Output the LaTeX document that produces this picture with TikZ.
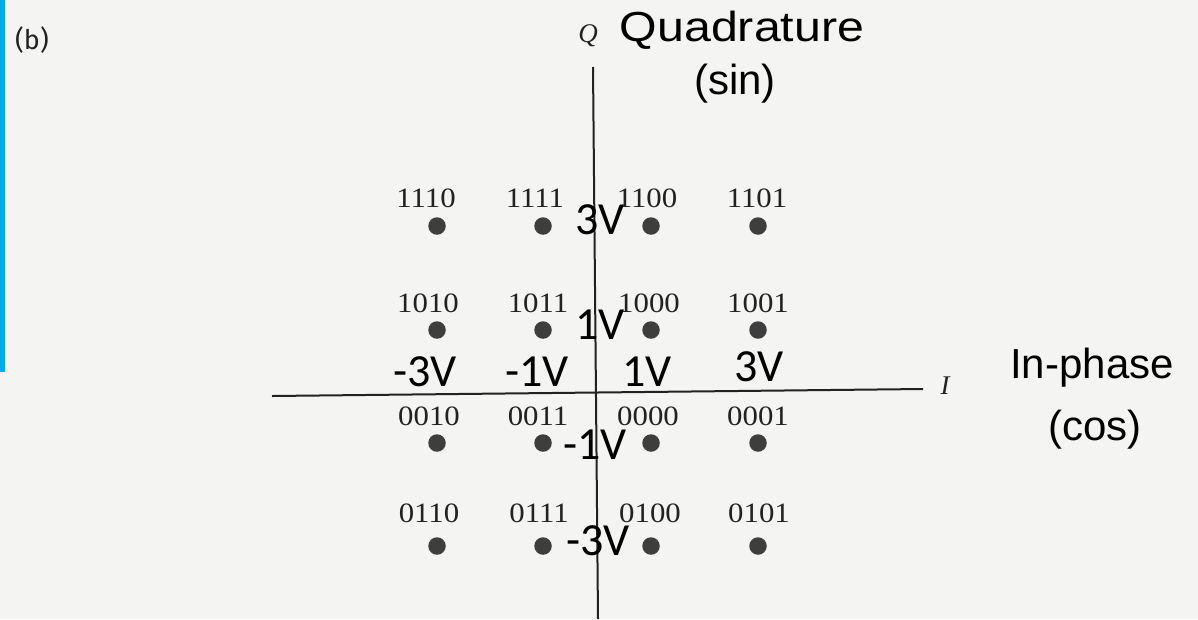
\documentclass[tikz,border=0pt]{standalone}
\usepackage{fontspec}
\setmainfont{Liberation Serif}
\newfontfamily\arialf{Liberation Sans}
\newfontfamily\calf{Carlito}
\newfontfamily\bfontf{Fira Sans}
\definecolor{paper}{RGB}{244,244,242}
\definecolor{barblue}{RGB}{0,172,238}
\definecolor{ink}{RGB}{34,34,34}
\definecolor{dotc}{RGB}{62,62,62}
\tikzset{
  axisline/.style={draw=ink, line width=2pt},
  sym/.style={circle, fill=dotc, inner sep=0pt, minimum size=17.5pt},
  bits/.style={inner sep=0pt, text=ink, font=\fontsize{28}{30}\selectfont, xscale=1.1, transform shape},
  volt/.style={inner sep=0pt, text=black, font=\calf\fontsize{46}{48}\selectfont},
  axname/.style={inner sep=0pt, text=black, font=\arialf\fontsize{42}{46}\selectfont, align=center},
  axlet/.style={inner sep=0pt, text=ink, font=\itshape\fontsize{27}{29}\selectfont}
}
\begin{document}
\begin{tikzpicture}[x=1pt, y=-1pt]
\useasboundingbox (0,0) rectangle (1198,619);
\fill[paper] (0,0) rectangle (1198,619);
\fill[barblue] (0,0) rectangle (5,372);
% axes
\coordinate (qtop) at (593,67);
\coordinate (qbot) at (598,619);
\coordinate (ileft) at (272,396);
\coordinate (iright) at (923,389);
\draw[axisline] (qtop) -- (qbot);
\draw[axisline] (ileft) -- (iright);
% labels
\node[inner sep=0pt, text=ink, font=\bfontf\fontsize{27}{29}\selectfont] (b) at (32,40) {(b)};
\node[axlet] (Q) at (588,36) {Q};
\node[axlet] (I) at (945,386) {I};
\node[axname, xscale=1.15, transform shape] (quad) at (742,30) {Quadrature};
\node[axname] (sin) at (735,84) {(sin)};
\node[axname] (inph) at (1092,368) {In-phase};
\node[axname] (cos) at (1095,430) {(cos)};
% symbols
\foreach \x/\c in {437/a,543/b,651/c,758/d}{
  \foreach \y/\r in {226/1,330/2,443/3,546/4}{
    \node[sym] (s\c\r) at (\x,\y) {};
  }
}
% bit labels
\foreach \t/\x/\y in {1110/426/198,1111/535/198,1100/647/198,1101/757/198,
                      1010/428/303,1011/538/303,1000/649/303,1001/758/303,
                      0010/429/416,0011/538/416,0000/648/416,0001/758/416,
                      0110/429/513,0111/539/513,0100/650/513,0101/759/513}{
  \node[bits] (t\t) at (\x,\y) {\t};
}
% voltage labels
\node[volt] (v3u) at (600,220) {3V};
\node[volt] (v1u) at (600,325) {1V};
\node[volt] (vm3) at (425,372) {-3V};
\node[volt] (vm1) at (537,372) {-1V};
\node[volt] (vp1) at (647,372) {1V};
\node[volt] (vp3) at (759,367) {3V};
\node[volt] (v1d) at (595,445) {-1V};
\node[volt] (v3d) at (598,541) {-3V};
\end{tikzpicture}
\end{document}
